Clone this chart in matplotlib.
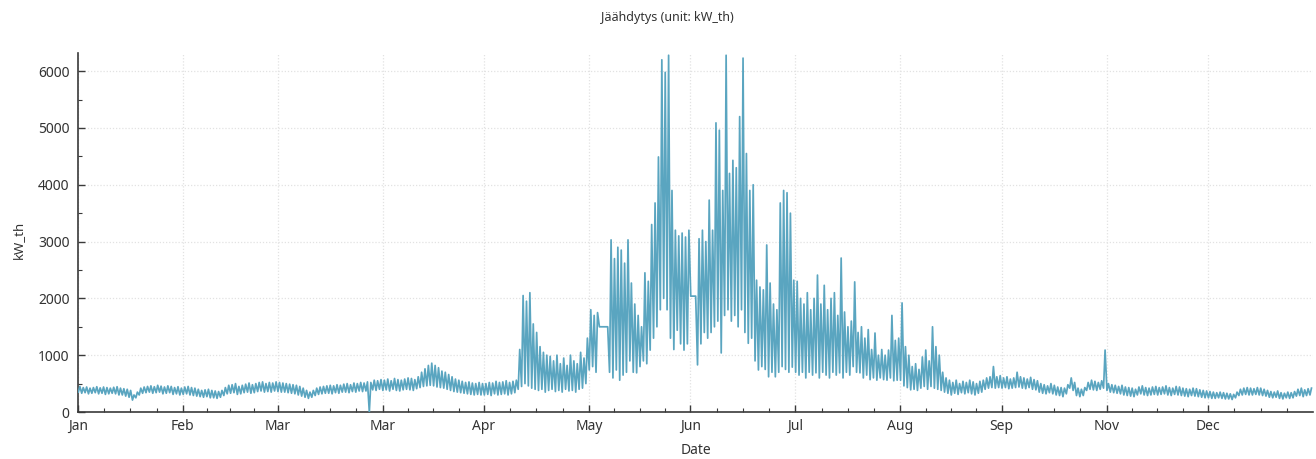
import numpy as np
import matplotlib
matplotlib.use("Agg")
import matplotlib.pyplot as plt

plt.rcParams['font.family'] = ['Noto Sans', 'DejaVu Sans']

# ---- data (daily low / daily high of the hourly cooling load, kW_th) ----
daily_high = [
    # Jan
    450, 430, 440, 420, 430, 445, 425, 440, 430, 420, 435, 445, 420, 410, 400, 380, 300, 350, 420, 440, 450, 460, 445, 470, 455, 440, 460, 450, 430, 445, 420,
    # Feb
    440, 450, 430, 420, 400, 380, 390, 400, 380, 370, 360, 380, 430, 470, 480, 500, 450, 470, 490, 510, 480, 500, 520, 530, 500, 520, 510, 530,
    # Mar
    520, 510, 500, 490, 480, 470, 450, 420, 380, 350, 380, 420, 440, 450, 460, 470, 460, 480, 470, 490, 500, 480, 510, 500, 520, 510, 530, 520, 560, 550, 570,
    # Apr
    560, 580, 550, 590, 570, 560, 580, 600, 590, 570, 620, 700, 760, 820, 860, 820, 780, 720, 700, 660, 620, 580, 560, 540, 520, 530, 510, 500, 520, 500,
    # May
    500, 520, 510, 540, 520, 530, 550, 520, 540, 560, 1100, 2050, 1950, 2100, 1550, 1400, 1150, 1050, 1000, 980, 900, 1000, 850, 950, 820, 1000, 900, 850, 1050, 950, 1300,
    # Jun
    1800, 1700, 1750, 1500, 1500, 1500, 3030, 2700, 2900, 2850, 2620, 3030, 2270, 1900, 1700, 1500, 2450, 2300, 3300, 3680, 4490, 6200, 5980, 6280, 3900, 3200, 3100, 3150, 3080, 3200,
    # Jul
    2040, 2040, 3050, 3200, 3000, 3730, 3200, 5090, 4960, 3900, 6280, 4200, 4430, 4300, 5200, 6230, 4550, 3900, 4000, 2320, 2200, 2150, 2940, 2270, 1900, 1800, 3680, 3900, 3860, 3500, 2320,
    # Aug
    2300, 2000, 1900, 2100, 1800, 2000, 2410, 1900, 2230, 1800, 2000, 2100, 1700, 2710, 1760, 1500, 1600, 2290, 1400, 1500, 1300, 1450, 1100, 1390, 1000, 1100, 1000, 1090, 1700, 1260, 1300,
    # Sep
    1920, 1150, 1000, 800, 850, 750, 970, 1090, 900, 1500, 1150, 1000, 700, 600, 560, 520, 560, 500, 540, 520, 560, 530, 500, 540, 560, 600, 620, 800, 620, 640,
    # Oct
    600, 620, 580, 600, 700, 620, 600, 580, 610, 570, 550, 500, 480, 460, 500, 470, 440, 430, 420, 480, 600, 520, 420, 400, 430, 520, 560, 540, 520, 550, 1090,
    # Nov
    500, 480, 470, 450, 470, 440, 430, 420, 400, 440, 460, 430, 420, 440, 450, 430, 440, 460, 430, 420, 450, 440, 420, 410, 400, 420, 410, 390, 380, 370,
    # Dec
    360, 350, 340, 350, 340, 330, 320, 310, 350, 400, 420, 430, 420, 410, 430, 420, 400, 380, 360, 350, 370, 340, 330, 350, 340, 360, 400, 420, 390, 410, 420,
]
daily_low = [
    # Jan
    350, 330, 340, 320, 330, 340, 320, 330, 310, 320, 330, 320, 300, 300, 280, 260, 210, 250, 300, 330, 340, 350, 330, 340, 350, 320, 330, 340, 310, 320, 300,
    # Feb
    310, 320, 300, 290, 280, 270, 260, 270, 250, 250, 240, 260, 290, 320, 330, 340, 310, 320, 340, 350, 330, 340, 360, 370, 350, 360, 350, 370,
    # Mar
    360, 350, 350, 340, 330, 320, 300, 280, 260, 240, 260, 290, 310, 320, 330, 330, 320, 340, 330, 350, 350, 340, 360, 350, 370, 360, 370, 0, 390, 380, 400,
    # Apr
    380, 390, 370, 400, 380, 370, 390, 400, 390, 380, 410, 430, 450, 460, 470, 460, 440, 430, 420, 400, 380, 360, 350, 340, 330, 320, 310, 300, 310, 300,
    # May
    300, 310, 290, 320, 300, 310, 320, 300, 320, 340, 400, 450, 500, 460, 420, 400, 380, 400, 350, 380, 400, 360, 380, 350, 400, 370, 380, 350, 400, 420, 500,
    # Jun
    740, 800, 700, 1500, 1500, 1500, 700, 600, 740, 560, 650, 700, 900, 700, 690, 800, 900, 850, 1090, 1300, 1500, 1800, 2000, 1800, 1300, 1100, 1440, 1200, 1090, 1200,
    # Jul
    2040, 2040, 830, 1200, 1400, 1300, 1400, 1500, 1600, 1040, 1700, 1800, 1600, 1700, 1500, 1800, 1400, 1210, 1300, 900, 740, 800, 750, 620, 700, 620, 700, 800, 750, 700, 790,
    # Aug
    700, 650, 700, 600, 700, 650, 690, 600, 700, 650, 600, 700, 650, 690, 600, 700, 650, 800, 700, 690, 600, 650, 570, 600, 560, 600, 570, 560, 600, 550, 560,
    # Sep
    560, 460, 430, 390, 400, 380, 420, 450, 400, 450, 420, 400, 380, 350, 330, 300, 330, 310, 340, 320, 340, 320, 300, 330, 350, 400, 420, 430, 420, 430,
    # Oct
    420, 430, 410, 420, 430, 440, 420, 410, 430, 400, 390, 350, 330, 320, 340, 320, 300, 290, 270, 320, 420, 380, 290, 270, 290, 380, 400, 390, 380, 400, 420,
    # Nov
    380, 350, 340, 330, 320, 300, 290, 280, 270, 300, 320, 300, 290, 300, 310, 300, 310, 320, 300, 290, 310, 300, 290, 280, 270, 290, 280, 270, 260, 250,
    # Dec
    250, 240, 240, 250, 240, 230, 230, 220, 250, 290, 300, 310, 300, 300, 310, 300, 290, 280, 260, 250, 260, 240, 230, 250, 240, 250, 280, 290, 270, 290, 300,
]

month_start_days = [0, 31, 59, 90, 120, 151, 181, 212, 243, 273, 304, 334]
month_labels = ["Jan", "Feb", "Mar", "Mar", "Apr", "May", "Jun", "Jul", "Aug", "Sep", "Nov", "Dec"]
y_ticks = [0, 1000, 2000, 3000, 4000, 5000, 6000]

title = "Jäähdytys (unit: kW_th)"
x_label = "Date"
y_label = "kW_th"

# ---- build line ----
lo = np.array(daily_low, dtype=float)
hi = np.array(daily_high, dtype=float)
days = np.arange(len(lo))
xs = np.empty(2 * len(lo))
ys = np.empty(2 * len(lo))
xs[0::2] = days + 0.1
xs[1::2] = days + 0.55
ys[0::2] = lo
ys[1::2] = hi

W, H = 1316, 459
fig = plt.figure(figsize=(W / 100, H / 100), dpi=100)
ax = fig.add_axes([78 / W, (H - 412) / H, (1313 - 78) / W, (412 - 53) / H])

ax.plot(xs, ys, color="#5aa5c0", lw=1.25, zorder=3)

ax.set_xlim(0, 365)
ax.set_ylim(0, 6320)

ax.set_xticks(month_start_days)
ax.set_xticklabels(month_labels)
edges = month_start_days + [365]
minor = []
for a, b in zip(edges[:-1], edges[1:]):
    minor += [a + (b - a) * k / 4 for k in (1, 2, 3)]
ax.set_xticks(minor, minor=True)
ax.set_yticks(y_ticks)
ax.set_yticks(np.arange(500, 6320, 1000), minor=True)

ax.grid(True, which="major", color="#e2e2e2", ls=(0, (1, 1.5)), lw=0.9, zorder=0)

for s in ("top", "right"):
    ax.spines[s].set_visible(False)
for s in ("left", "bottom"):
    ax.spines[s].set_color("#3a3a3a")
    ax.spines[s].set_linewidth(1.2)

ax.tick_params(which="major", direction="in", length=5, width=1, color="#3a3a3a",
               labelsize=10, labelcolor="#333333")
ax.tick_params(axis="x", which="major", pad=5)
ax.tick_params(axis="y", which="major", pad=6)
ax.tick_params(which="minor", direction="in", length=3, width=0.8, color="#3a3a3a")

fig.text(667 / W, 1 - 18 / H, title, ha="center", va="center", fontsize=9, color="#333333")
fig.text(696 / W, 1 - 451 / H, x_label, ha="center", va="center", fontsize=10, color="#333333")
fig.text(18 / W, 1 - 240 / H, y_label, ha="center", va="center", rotation=90, fontsize=9.5, color="#333333")

fig.savefig("out.png", dpi=100)
